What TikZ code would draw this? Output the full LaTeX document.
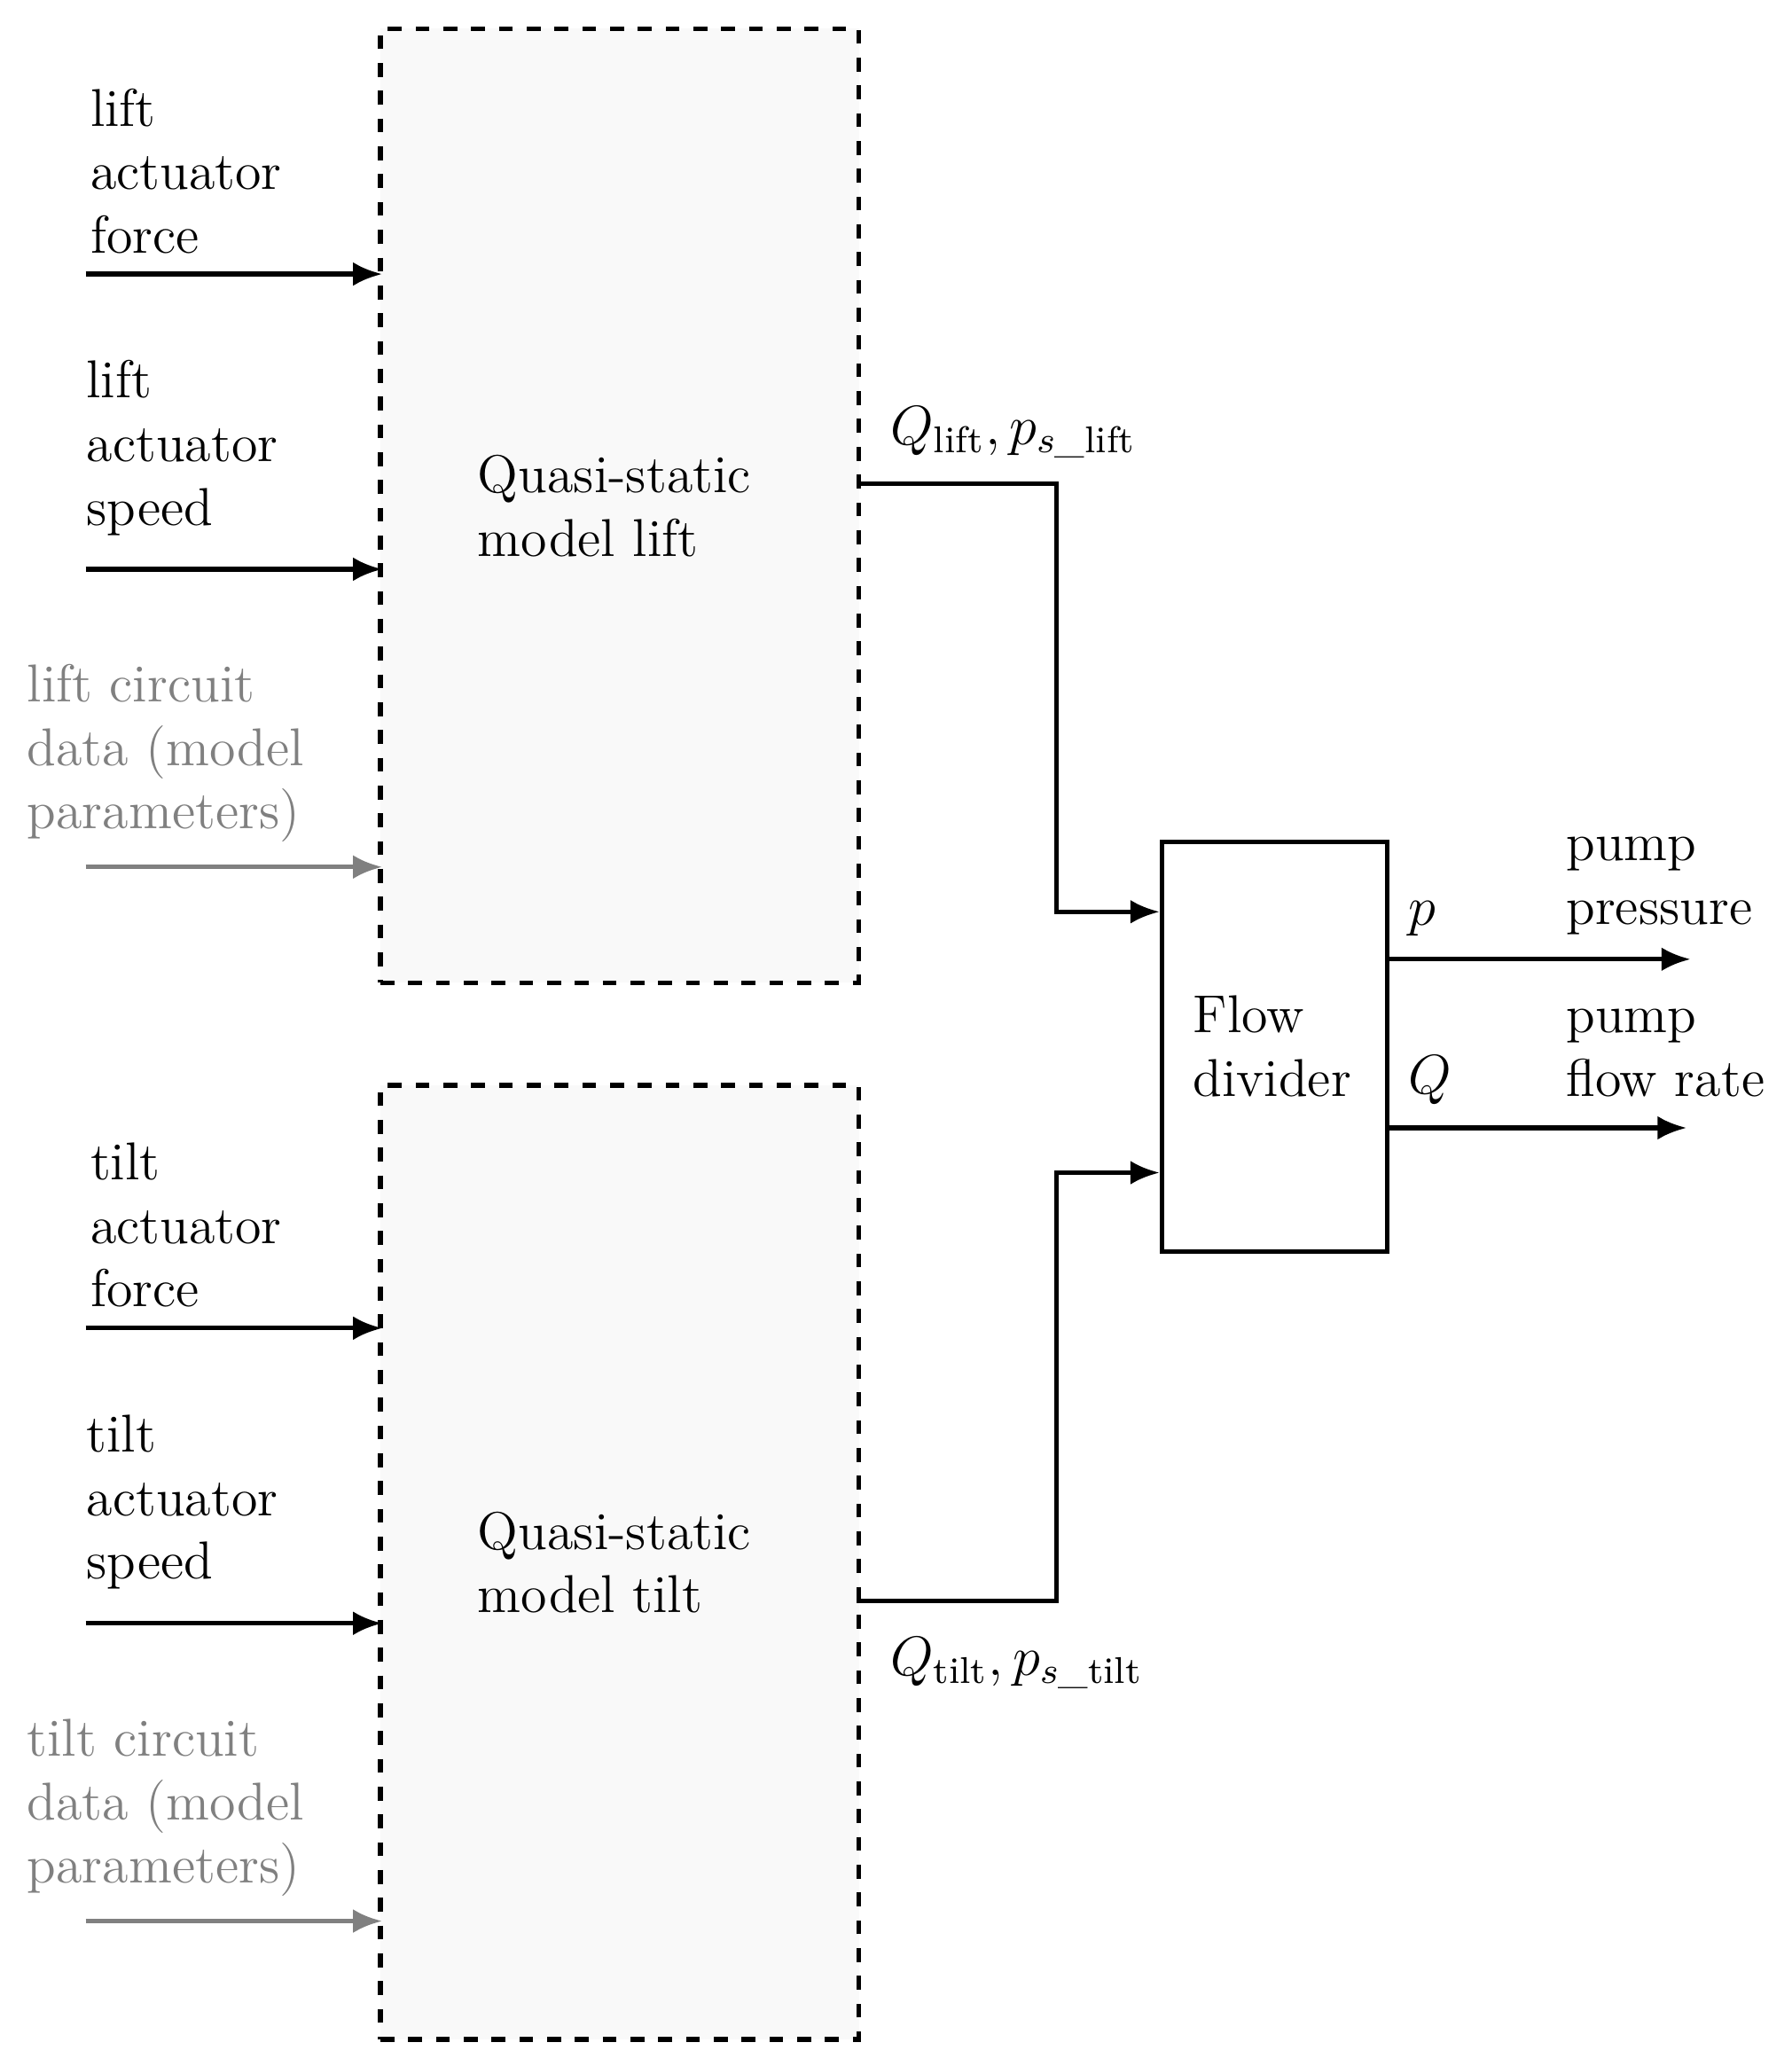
\documentclass[tikz,border=0pt]{standalone}
\usepackage{amsmath,amssymb}
\usetikzlibrary{arrows.meta,positioning,calc}
\tikzset{
  model/.style={draw, dashed, line width=1pt, fill=gray!5, minimum width=3.63cm, minimum height=7.24cm, anchor=north west, inner sep=0pt},
  divider/.style={draw, line width=1pt, minimum width=1.71cm, minimum height=3.11cm, anchor=north west, inner sep=0pt},
  sig/.style={-{Latex[length=2.2mm,width=1.8mm]}, line width=1pt},
  par/.style={sig, gray},
  lbl/.style={align=left, anchor=south west, inner sep=0pt, font=\fontsize{11.5}{13.7}\selectfont},
  txt/.style={align=left, anchor=west, inner sep=0pt, font=\fontsize{11.5}{13.7}\selectfont}
}
\begin{document}
\begin{tikzpicture}
  \useasboundingbox (0,0) rectangle (13.6,-15.68);

  % Model blocks
  \node[model] (lift) at (2.87,-0.2) {};
  \node[model] (tilt) at (2.87,-8.22) {};
  \node[divider] (fd) at (8.8,-6.37) {};
  \node[txt] at (3.62,-3.84) {Quasi-static\\model lift};
  \node[txt] at (3.62,-11.86) {Quasi-static\\model tilt};
  \node[txt] at (9.05,-7.94) {Flow\\divider};

  % Inputs for the lift block
  \coordinate (a1) at (0.65,-2.08);
  \coordinate (a2) at (0.65,-4.32);
  \coordinate (a3) at (0.65,-6.58);
  \draw[sig] (a1) -- ($(a1 -| lift.west)+(0.03,0)$);
  \draw[sig] (a2) -- ($(a2 -| lift.west)+(0.03,0)$);
  \draw[par] (a3) -- ($(a3 -| lift.west)+(0.03,0)$);
  \node[lbl] at (0.68,-1.93) {lift\\actuator\\force};
  \node[lbl] at (0.65,-4.07) {lift\\actuator\\speed};
  \node[lbl, gray] at (0.2,-6.4) {lift circuit\\data (model\\parameters)};

  % Inputs for the tilt block
  \coordinate (b1) at (0.65,-10.08);
  \coordinate (b2) at (0.65,-12.32);
  \coordinate (b3) at (0.65,-14.58);
  \draw[sig] (b1) -- ($(b1 -| tilt.west)+(0.03,0)$);
  \draw[sig] (b2) -- ($(b2 -| tilt.west)+(0.03,0)$);
  \draw[par] (b3) -- ($(b3 -| tilt.west)+(0.03,0)$);
  \node[lbl] at (0.68,-9.93) {tilt\\actuator\\force};
  \node[lbl] at (0.65,-12.07) {tilt\\actuator\\speed};
  \node[lbl, gray] at (0.2,-14.4) {tilt circuit\\data (model\\parameters)};

  % Connections to the flow divider
  \coordinate (l1) at (6.5,-3.67);
  \coordinate (t1) at (6.5,-12.15);
  \draw[sig] (l1) -- (8.02,-3.67) |- ($(fd.north west)+(0,-0.55)$);
  \draw[sig] (t1) -- (8.02,-12.15) |- ($(fd.north west)+(0,-2.53)$);
  \node[txt] at (6.75,-3.28) {$Q_{\text{lift}}, p_{s\_\text{lift}}$};
  \node[txt] at (6.75,-12.62) {$Q_{\text{tilt}}, p_{s\_\text{tilt}}$};

  % Outputs
  \coordinate (p1) at (12.83,-7.28);
  \coordinate (q1) at (12.8,-8.56);
  \draw[sig] (p1 -| fd.east) -- (p1);
  \draw[sig] (q1 -| fd.east) -- (q1);
  \node[txt] at (10.68,-6.97) {$p$};
  \node[txt] at (10.68,-8.2) {$Q$};
  \node[lbl] at (11.88,-7.1) {pump\\pressure};
  \node[lbl] at (11.88,-8.33) {pump\\flow rate};
\end{tikzpicture}
\end{document}
